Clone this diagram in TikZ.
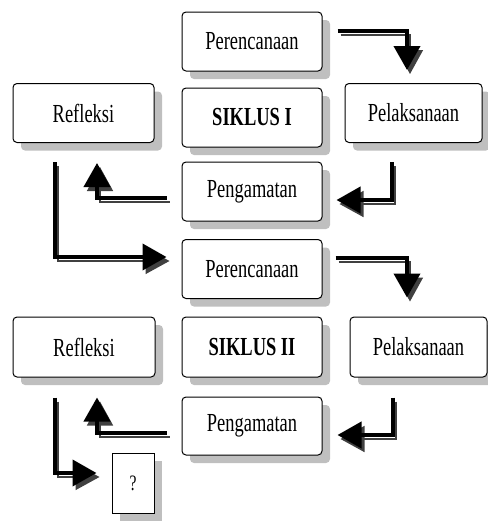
\documentclass[tikz,border=0pt]{standalone}
\usepackage{fontspec}
\setmainfont{Liberation Serif}
\newfontfamily\sempit[FakeStretch=0.71]{Liberation Serif}
\usetikzlibrary{shadows,arrows.meta}
\tikzset{
  kotak/.style={draw=black, line width=1pt, rounded corners=4pt, fill=white,
    minimum width=140pt, minimum height=59pt, inner sep=0pt,
    font=\sempit\fontsize{26}{30}\selectfont,
    general shadow={fill=black!25, shadow xshift=8pt, shadow yshift=-8pt}},
  panah/.style={line width=4pt, -{Triangle[length=24pt,width=26pt]},
    preaction={draw=black!75, line width=1.5pt, transform canvas={xshift=3pt,yshift=-4pt}}},
}
\begin{document}
\begin{tikzpicture}[x=1pt,y=-1pt]
                        \useasboundingbox (0,0) rectangle (488,523);

                        % Drawing boxes of siklus I
                        \node [kotak] (per1) at (252,41.5) {Perencanaan};%
                        \node [kotak, minimum width=141pt] (ref1) at (83.5,113) {Refleksi};%
                        \node [kotak] (sik1) at (252,117.5) {\bfseries SIKLUS I};%
                        \node [kotak, minimum width=137pt] (pel1) at (413.5,113) {Pelaksanaan};%
                        \node [kotak] (pen1) at (252,191.5) {Pengamatan};%

                        % Drawing boxes of siklus II
                        \node [kotak] (per2) at (252,269) {Perencanaan};%
                        \node [kotak, minimum width=142pt, minimum height=60pt] (ref2) at (84,347) {Refleksi};%
                        \node [kotak, minimum height=60pt] (sik2) at (252,347) {\bfseries SIKLUS II};%
                        \node [kotak, minimum width=137pt, minimum height=60pt] (pel2) at (418.5,347) {Pelaksanaan};%
                        \node [kotak, minimum height=58pt] (pen2) at (252,426) {Pengamatan};%

                        % Marking next step by box
                        \node [kotak, rounded corners=0pt, minimum width=42pt, minimum height=60pt,
                               font=\sempit\fontsize{22}{24}\selectfont] (lanjut) at (133,483) {?};%

                        % Drawing arrows of siklus I
                        \draw [panah] ([xshift=15pt,yshift=10.5pt]per1.east) -| ([xshift=-6.5pt,yshift=13pt]pel1.north);%
                        \draw [panah] ([xshift=-21.5pt,yshift=-19pt]pel1.south) |- ([xshift=14pt,yshift=-8.5pt]pen1.east);%
                        \draw [panah] ([xshift=-15pt,yshift=-6.5pt]pen1.west) -| ([xshift=13.5pt,yshift=-20pt]ref1.south);%
                        \draw [panah] ([xshift=-28.5pt,yshift=-19pt]ref1.south) |- ([xshift=-15pt,yshift=12pt]per2.west);%

                        % Drawing arrows of siklus II
                        \draw [panah] ([xshift=13pt,yshift=11pt]per2.east) -| ([xshift=-11.5pt,yshift=19pt]pel2.north);%
                        \draw [panah] ([xshift=-25.5pt,yshift=-20pt]pel2.south) |- ([xshift=15pt,yshift=-9pt]pen2.east);%
                        \draw [panah] ([xshift=-15pt,yshift=-7pt]pen2.west) -| ([xshift=13pt,yshift=-20pt]ref2.south);%
                        \draw [panah] ([xshift=-29pt,yshift=-20pt]ref2.south) |- ([xshift=-15pt,yshift=10pt]lanjut.west);%
\end{tikzpicture}
\end{document}
